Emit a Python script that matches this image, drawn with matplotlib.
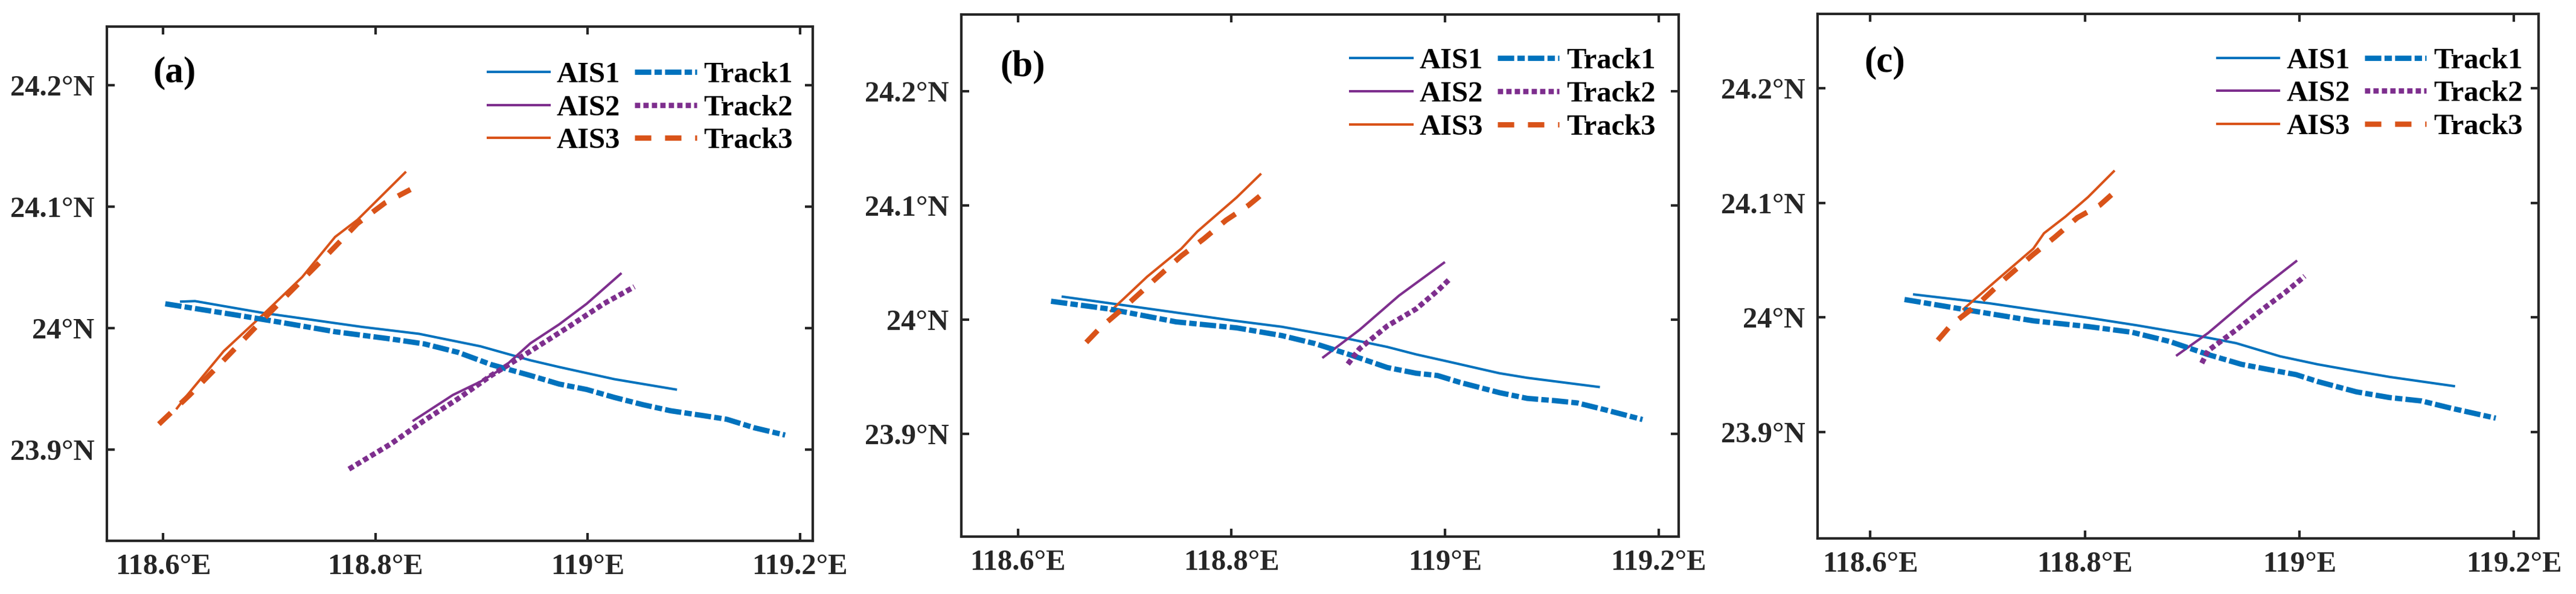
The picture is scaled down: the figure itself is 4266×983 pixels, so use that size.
import matplotlib
matplotlib.use("Agg")
import matplotlib.pyplot as plt

plt.rcParams['font.family'] = ['Liberation Serif', 'DejaVu Serif']
plt.rcParams['font.weight'] = 'bold'

# colours (MATLAB default order)
c_blue = '#0072BD'
c_purple = '#7E2F8E'
c_orange = '#D95319'

series_names = ['AIS1', 'AIS2', 'AIS3', 'Track1', 'Track2', 'Track3']
panel_tags = ['(a)', '(b)', '(c)']

x_ticks = [118.6, 118.8, 119.0, 119.2]
y_ticks = [23.9, 24.0, 24.1, 24.2]

# ---- panel (a) ----
ais1_lon_a = [118.617, 118.63, 118.694, 118.788, 118.841, 118.899, 118.946, 118.973, 119.025, 119.083]
ais1_lat_a = [24.0218, 24.0222, 24.0125, 24.0009, 23.9953, 23.985, 23.9735, 23.968, 23.958, 23.9495]
trk1_lon_a = [118.602, 118.667, 118.709, 118.762, 118.815, 118.846, 118.878, 118.909, 118.946, 118.973,
              118.999, 119.025, 119.052, 119.078, 119.109, 119.131, 119.157, 119.186]
trk1_lat_a = [24.020, 24.011, 24.005, 23.997, 23.991, 23.987, 23.980, 23.970, 23.961, 23.954,
              23.9495, 23.943, 23.937, 23.932, 23.928, 23.925, 23.918, 23.912]
ais2_lon_a = [118.836, 118.873, 118.899, 118.920, 118.946, 118.973, 118.999, 119.031]
ais2_lat_a = [23.924, 23.945, 23.956, 23.967, 23.9875, 24.003, 24.020, 24.0446]
trk2_lon_a = [118.775, 118.815, 118.846, 118.878, 118.909, 118.946, 118.983, 119.015, 119.044]
trk2_lat_a = [23.884, 23.905, 23.924, 23.942, 23.961, 23.981, 24.0016, 24.020, 24.034]
ais3_lon_a = [118.613, 118.620, 118.657, 118.694, 118.731, 118.762, 118.783, 118.828]
ais3_lat_a = [23.934, 23.942, 23.981, 24.011, 24.042, 24.075, 24.089, 24.128]
trk3_lon_a = [118.596, 118.625, 118.657, 118.688, 118.720, 118.752, 118.783, 118.809, 118.833]
trk3_lat_a = [23.921, 23.945, 23.9735, 24.0016, 24.030, 24.058, 24.086, 24.103, 24.114]

# ---- panel (b) ----
ais1_lon_b = [118.642, 118.711, 118.800, 118.847, 118.905, 118.946, 118.973, 119.004, 119.051, 119.077, 119.144]
ais1_lat_b = [24.020, 24.011, 23.9993, 23.9937, 23.984, 23.976, 23.9695, 23.963, 23.953, 23.949, 23.941]
trk1_lon_b = [118.631, 118.685, 118.748, 118.805, 118.847, 118.878, 118.910, 118.946, 118.973, 118.993,
              119.014, 119.051, 119.077, 119.103, 119.124, 119.150, 119.185]
trk1_lat_b = [24.016, 24.0093, 23.998, 23.9927, 23.986, 23.979, 23.9695, 23.958, 23.953, 23.951,
              23.945, 23.936, 23.931, 23.929, 23.927, 23.921, 23.9125]
ais2_lon_b = [118.886, 118.920, 118.957, 118.999]
ais2_lat_b = [23.967, 23.991, 24.021, 24.0497]
trk2_lon_b = [118.909, 118.920, 118.946, 118.973, 118.994, 119.005]
trk2_lat_b = [23.961, 23.9745, 23.9944, 24.0093, 24.026, 24.036]
ais3_lon_b = [118.687, 118.721, 118.753, 118.768, 118.784, 118.805, 118.827]
ais3_lat_b = [24.0076, 24.0375, 24.062, 24.077, 24.090, 24.107, 24.127]
trk3_lon_b = [118.664, 118.677, 118.700, 118.727, 118.753, 118.774, 118.795, 118.816, 118.833]
trk3_lat_b = [23.980, 23.9927, 24.011, 24.034, 24.0557, 24.0706, 24.087, 24.100, 24.113]

# ---- panel (c) ----
ais1_lon_c = [118.641, 118.711, 118.803, 118.849, 118.905, 118.941, 118.982, 119.017, 119.053, 119.084, 119.144]
ais1_lat_c = [24.020, 24.0123, 23.9997, 23.993, 23.984, 23.9775, 23.966, 23.959, 23.953, 23.948, 23.940]
trk1_lon_c = [118.632, 118.685, 118.752, 118.803, 118.844, 118.879, 118.915, 118.946, 118.982, 118.997,
              119.017, 119.053, 119.084, 119.114, 119.140, 119.183]
trk1_lat_c = [24.0156, 24.0073, 23.997, 23.992, 23.987, 23.979, 23.9675, 23.959, 23.9526, 23.950,
              23.944, 23.935, 23.930, 23.927, 23.921, 23.912]
ais2_lon_c = [118.886, 118.915, 118.956, 118.997]
ais2_lat_c = [23.967, 23.9864, 24.019, 24.049]
trk2_lon_c = [118.909, 118.915, 118.941, 118.966, 118.987, 119.005]
trk2_lat_c = [23.960, 23.971, 23.989, 24.0073, 24.022, 24.036]
ais3_lon_c = [118.687, 118.721, 118.752, 118.762, 118.782, 118.803, 118.827]
ais3_lat_c = [24.0073, 24.035, 24.060, 24.0735, 24.088, 24.105, 24.1275]
trk3_lon_c = [118.663, 118.675, 118.701, 118.726, 118.752, 118.772, 118.793, 118.814, 118.832]
trk3_lat_c = [23.980, 23.993, 24.012, 24.034, 24.055, 24.070, 24.087, 24.098, 24.113]

xlims = [(118.547, 119.212), (118.547, 119.219), (118.551, 119.223)]
ylims = [(23.825, 24.248), (23.810, 24.267), (23.807, 24.265)]


def lon_fmt(v):
    s = ('%.1f' % v).rstrip('0').rstrip('.')
    return s + '\u00b0E'


def lat_fmt(v):
    s = ('%.1f' % v).rstrip('0').rstrip('.')
    return s + '\u00b0N'


fig = plt.figure(figsize=(42.66, 9.83), dpi=100)
boxes = [[0.0415, 0.0895, 0.2740, 0.8657],
         [0.3732, 0.0966, 0.2785, 0.8790],
         [0.7056, 0.0936, 0.2799, 0.8830]]
tag_pos = [(0.065, 0.91), (0.054, 0.899), (0.065, 0.907)]
leg_anchor = [(0.972, 0.932), (0.968, 0.936), (0.978, 0.936)]

panels = [
    (ais1_lon_a, ais1_lat_a, ais2_lon_a, ais2_lat_a, ais3_lon_a, ais3_lat_a,
     trk1_lon_a, trk1_lat_a, trk2_lon_a, trk2_lat_a, trk3_lon_a, trk3_lat_a),
    (ais1_lon_b, ais1_lat_b, ais2_lon_b, ais2_lat_b, ais3_lon_b, ais3_lat_b,
     trk1_lon_b, trk1_lat_b, trk2_lon_b, trk2_lat_b, trk3_lon_b, trk3_lat_b),
    (ais1_lon_c, ais1_lat_c, ais2_lon_c, ais2_lat_c, ais3_lon_c, ais3_lat_c,
     trk1_lon_c, trk1_lat_c, trk2_lon_c, trk2_lat_c, trk3_lon_c, trk3_lat_c),
]

lw_ais = 2.9
lw_trk = 6.3
axis_col = '#262626'

for i, p in enumerate(panels):
    ax = fig.add_axes(boxes[i])
    ax.plot(p[0], p[1], color=c_blue, lw=lw_ais, label=series_names[0])
    ax.plot(p[2], p[3], color=c_purple, lw=lw_ais, label=series_names[1])
    ax.plot(p[4], p[5], color=c_orange, lw=lw_ais, label=series_names[2])
    ax.plot(p[6], p[7], color=c_blue, lw=lw_trk, dashes=(3.1, 0.6, 1.4, 0.6), label=series_names[3])
    ax.plot(p[8], p[9], color=c_purple, lw=lw_trk, dashes=(1.0, 0.6), label=series_names[4])
    ax.plot(p[10], p[11], color=c_orange, lw=lw_trk, dashes=(3.1, 2.6), label=series_names[5])

    ax.set_xlim(*xlims[i])
    ax.set_ylim(*ylims[i])
    ax.set_xticks(x_ticks)
    ax.set_yticks(y_ticks)
    ax.set_xticklabels([lon_fmt(v) for v in x_ticks])
    ax.set_yticklabels([lat_fmt(v) for v in y_ticks])
    ax.tick_params(direction='in', length=9.5, width=3, top=True, right=True,
                   labelsize=35, colors=axis_col, pad=15)
    for t in ax.get_xticklabels() + ax.get_yticklabels():
        t.set_fontweight('bold')
    for sp in ax.spines.values():
        sp.set_linewidth(3)
        sp.set_color(axis_col)

    ax.text(tag_pos[i][0], tag_pos[i][1], panel_tags[i], transform=ax.transAxes,
            fontsize=44, fontweight='bold', ha='left', va='center')

    leg = ax.legend(ncol=2, loc='upper right', bbox_to_anchor=leg_anchor[i],
                    frameon=False, fontsize=35, handlelength=2.1, handletextpad=0.25,
                    columnspacing=0.5, labelspacing=0.22, borderaxespad=0, borderpad=0)
    for t in leg.get_texts():
        t.set_fontweight('bold')

fig.savefig('out.png', dpi=100)
